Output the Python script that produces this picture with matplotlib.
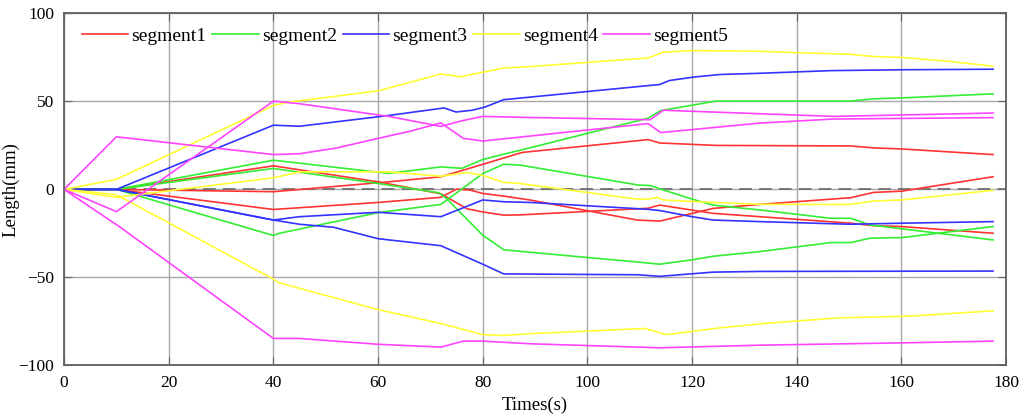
# cable length of each segment over time

import matplotlib.pyplot as plt

# segment1 (red)
seg1_a_t = [0, 10, 40, 62, 72, 80.5, 87.5, 111.6, 113.8, 124.6, 150.3, 154.7, 160, 177.5]
seg1_a_y = [0, 0, -1.3, 4.3, 7.2, 14.7, 21, 28.3, 26.4, 25, 24.7, 23.6, 23, 19.8]
seg1_b_t = [0, 10, 40, 60, 72, 77, 80, 84, 87, 111.6, 113.8, 124, 133, 150.3, 154.7, 160, 177.5]
seg1_b_y = [0, 0, 13.4, 4.3, -2.5, -11, -12.8, -14.6, -14.5, -10.7, -8.9, -13.6, -15.5, -19.2, -20.6, -21.1, -24.9]
seg1_c_t = [0, 10, 40, 60, 72, 75, 77.6, 80, 84, 89, 109.5, 113.8, 124, 133, 150.3, 154.7, 160, 177.5]
seg1_c_y = [0, 0, -11.4, -7.4, -4.5, 0.2, -0.4, -2.3, -3.8, -6, -17.4, -18, -10.8, -8.5, -4.7, -1.7, -1, 7.2]

# segment2 (green)
seg2_a_t = [0, 10, 40, 62, 72, 76, 80, 84, 87.2, 111.6, 114, 124.6, 150.3, 154.7, 160, 177.5]
seg2_a_y = [0, 0, 16.6, 9.1, 12.8, 12, 17, 20, 22.3, 40.5, 44.8, 50.2, 50.2, 51.5, 52, 54.3]
seg2_b_t = [0, 10, 40, 60, 71.6, 73, 80, 84, 89, 109.7, 113.8, 120, 124, 133, 146.5, 150.3, 154, 160, 177.5]
seg2_b_y = [0, 0, 11.9, 3.4, -1.9, -5, -26, -34.3, -35.7, -41.3, -42.5, -40, -38, -35.3, -30.2, -30.2, -27.7, -27.4, -21.1]
seg2_c_t = [0, 10, 40, 41, 60, 72, 80, 84, 87.2, 109.7, 112, 114.2, 120, 124, 133, 146.5, 150.3, 154, 177.5]
seg2_c_y = [0, 0, -26.2, -25, -13.2, -8.5, 9, 14.3, 13.8, 2.5, 2.2, 0, -5.5, -8.9, -11.7, -16.4, -16.4, -20.2, -28.7]

# segment3 (blue)
seg3_a_t = [0, 10, 40, 45, 62, 72.6, 74.9, 78, 80.5, 84, 87.5, 111.6, 113.8, 115.7, 120.2, 125.3, 133, 146.5, 160, 177.5]
seg3_a_y = [0, 0, 36.5, 35.9, 42, 46.3, 44, 45, 46.9, 51, 52, 59, 59.6, 61.9, 63.8, 65.3, 66, 67.5, 68, 68.3]
seg3_b_t = [0, 10, 40, 45, 60, 72, 80, 84, 89, 111.6, 113.8, 120, 124, 133, 150.3, 160, 177.5]
seg3_b_y = [0, 0, -17.4, -15.5, -13, -15.5, -6, -7, -7.4, -11.3, -12, -15.5, -17.4, -18.3, -19.8, -19.2, -18.3]
seg3_c_t = [0, 10, 40, 45, 51.5, 60, 72, 80, 84, 89, 109.7, 113.8, 124, 133, 177.5]
seg3_c_y = [0, 0, -17.4, -19.8, -21.5, -28, -32, -42.5, -48, -48.1, -48.5, -49.4, -47, -46.6, -46.4]

# segment4 (yellow)
seg4_a_t = [0, 10, 40, 43, 60, 72, 75.7, 80, 84, 89, 111.6, 114.5, 120.2, 133, 140, 150.3, 154.7, 160, 169, 177.5]
seg4_a_y = [0, 5.7, 47.7, 49.6, 56, 65.6, 64, 66.6, 69, 69.8, 74.7, 78, 78.9, 78.5, 77.7, 76.8, 75.5, 75, 72.8, 70]
seg4_b_t = [0, 10, 40, 45, 62, 72, 77, 80, 84, 87, 109.5, 111.7, 113.3, 114.5, 124, 133, 150.3, 154.7, 160, 177.5]
seg4_b_y = [0, -4.5, 6.6, 10, 10, 7.5, 9.6, 8, 4, 3.4, -5.5, -5.5, -4.5, -6, -7.4, -8.5, -8.5, -6.6, -6, -0.5]
seg4_c_t = [0, 10, 40, 41, 60, 72, 80, 84, 89, 111, 115, 125.5, 134.5, 148, 161.6, 177.5]
seg4_c_y = [0, -3, -51, -53, -68.3, -76.2, -82.5, -83, -82, -79, -82.5, -78.6, -76, -73, -72, -69]

# segment5 (magenta)
seg5_a_t = [0, 10, 40, 45, 52, 60, 66, 72, 76.3, 80, 88, 111.6, 114, 133, 147, 177.5]
seg5_a_y = [0, 29.9, 19.8, 20.3, 23.5, 29, 33, 37.8, 29, 27.5, 30, 37.4, 32.3, 37.7, 40, 40.8]
seg5_b_t = [0, 10, 40, 45, 62, 72, 76, 80, 87, 112, 114.5, 133, 147, 177.5]
seg5_b_y = [0, -12.6, 50.2, 48.7, 41.5, 35.8, 39, 41.5, 41, 39.6, 45, 43, 41.5, 43.4]
seg5_c_t = [0, 10, 10.5, 40, 45, 60, 72, 76.3, 80, 89, 113.8, 133, 160, 177.5]
seg5_c_y = [0, -20, -21, -84.7, -84.7, -88, -89.6, -86.2, -86.2, -87.7, -90, -88.5, -87.2, -86.2]

segments = [
    ("segment1", "#ff3333", [(seg1_a_t, seg1_a_y), (seg1_b_t, seg1_b_y), (seg1_c_t, seg1_c_y)]),
    ("segment2", "#33ee33", [(seg2_a_t, seg2_a_y), (seg2_b_t, seg2_b_y), (seg2_c_t, seg2_c_y)]),
    ("segment3", "#3333ff", [(seg3_a_t, seg3_a_y), (seg3_b_t, seg3_b_y), (seg3_c_t, seg3_c_y)]),
    ("segment4", "#ffff33", [(seg4_a_t, seg4_a_y), (seg4_b_t, seg4_b_y), (seg4_c_t, seg4_c_y)]),
    ("segment5", "#ff44ff", [(seg5_a_t, seg5_a_y), (seg5_b_t, seg5_b_y), (seg5_c_t, seg5_c_y)]),
]

plt.rcParams["font.family"] = ["Liberation Serif", "DejaVu Serif"]

fig = plt.figure(figsize=(10.33, 4.2), dpi=100)
ax = fig.add_axes([0.062, 0.130, 0.912, 0.838])

ax.grid(True, color="#a8a8a8", linewidth=1.0)
ax.set_axisbelow(True)
ax.axhline(0, color="#707070", linewidth=1.3, linestyle=(0, (7, 4)), zorder=1.5)

for name, color, lines in segments:
    for i, (t, y) in enumerate(lines):
        ax.plot(t, y, color=color, linewidth=1.2, label=name if i == 0 else None)

ax.set_xlim(0, 180)
ax.set_ylim(-100, 100)
ax.set_xticks(range(0, 181, 20))
ax.set_yticks([-100, -50, 0, 50, 100])
ax.tick_params(direction="in", top=True, right=True, labelsize=12.5, length=6, color="#606060", pad=7)
for s in ax.spines.values():
    s.set_color("#606060")
    s.set_linewidth(1.3)

ax.set_xlabel("Times(s)", fontsize=13.5, labelpad=4)
ax.set_ylabel("Length(mm)", fontsize=13.5)
ax.yaxis.set_label_coords(-0.047, 0.5)

ax.legend(loc="upper left", bbox_to_anchor=(0.0, 1.01), ncol=5, frameon=False,
          fontsize=14, handlelength=2.4, handletextpad=0.15, columnspacing=0.3)

fig.savefig("out.png", dpi=100)
